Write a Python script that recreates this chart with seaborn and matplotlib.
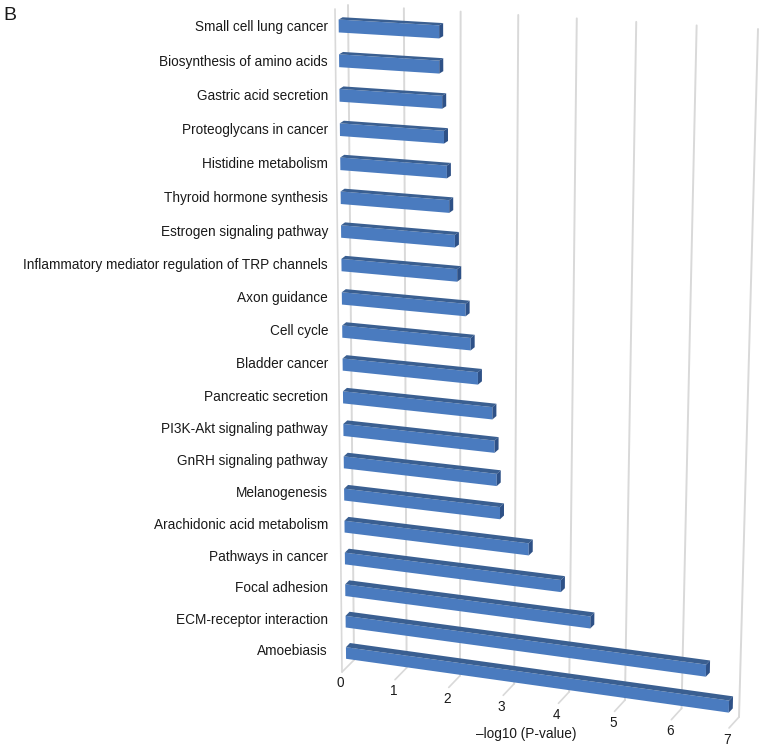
import numpy as np
import pandas as pd
import seaborn as sns
import matplotlib
matplotlib.use('Agg')
import matplotlib.pyplot as plt
from matplotlib.patches import Polygon
from matplotlib.transforms import Affine2D, Transform

pathways = [
    'Small cell lung cancer', 'Biosynthesis of amino acids', 'Gastric acid secretion',
    'Proteoglycans in cancer', 'Histidine metabolism', 'Thyroid hormone synthesis',
    'Estrogen signaling pathway', 'Inflammatory mediator regulation of TRP channels',
    'Axon guidance', 'Cell cycle', 'Bladder cancer', 'Pancreatic secretion',
    'PI3K-Akt signaling pathway', 'GnRH signaling pathway', 'Melanogenesis',
    'Arachidonic acid metabolism', 'Pathways in cancer', 'Focal adhesion',
    'ECM-receptor interaction', 'Amoebiasis',
]
log_p = [1.79, 1.79, 1.84, 1.87, 1.92, 1.96, 2.06, 2.10, 2.25, 2.34,
         2.47, 2.73, 2.77, 2.81, 2.87, 3.39, 3.97, 4.50, 6.54, 6.95]
x_ticks = [0, 1, 2, 3, 4, 5, 6, 7]

FRONT_COLOR = '#4A7BBF'
TOP_COLOR = '#3A5F91'
CAP_COLOR = '#2E5187'
GRID_COLOR = '#D9D9D9'
TEXT_COLOR = '#1A1A1A'
BAR_WIDTH = 0.37
TOP_ROW, BOTTOM_ROW = -0.5, 19.5


# maps (value, row) to picture pixels, straight lines stay straight
class Perspective(Transform):
    input_dims = 2
    output_dims = 2

    def __init__(self, src, dst):
        super().__init__()
        A, b = [], []
        for (x, y), (u, v) in zip(src, dst):
            A.append([x, y, 1, 0, 0, 0, -u * x, -u * y])
            A.append([0, 0, 0, x, y, 1, -v * x, -v * y])
            b += [u, v]
        self.h = np.append(np.linalg.solve(np.array(A), np.array(b)), 1).reshape(3, 3)

    def transform_non_affine(self, values):
        xy = np.column_stack([values, np.ones(len(values))]) @ self.h.T
        return xy[:, :2] / xy[:, 2:]


corners_src = [(0, 0), (0, 19), (7, 19), (7, 0)]
bar_plane = Perspective(corners_src, [(338.7, 26), (346, 653), (731.8, 707), (747, 50)])
wall_src = [(0, TOP_ROW), (0, BOTTOM_ROW), (7, BOTTOM_ROW), (7, TOP_ROW)]
back_wall = Perspective(wall_src, [(348, 5), (354, 660), (739, 717), (758, 29)])
front_edge = Perspective(wall_src, [(335, 9), (342, 672), (729, 728), (745, 33)])

sns.set_theme(style='white')
plt.rcParams['font.family'] = ['Liberation Sans', 'DejaVu Sans']

fig = plt.figure(figsize=(7.65, 7.49), dpi=100)
ax = fig.add_axes([0, 0, 1, 1])
df = pd.DataFrame({'pathway': pathways, 'value': log_p})
sns.barplot(data=df, x='value', y='pathway', orient='h', color=FRONT_COLOR,
            saturation=1, width=BAR_WIDTH, ax=ax)
ax.axis('off')

pixels = Affine2D().scale(1, -1).translate(0, 749)
for bar in ax.patches:
    bar.set_transform(bar_plane + pixels)
    bar.set_linewidth(0)
    bar.set_zorder(2)

# depth of the bars, the lower rows are seen more from above
for row, value in enumerate(log_p):
    depth = np.array([4.0, -(2.3 + 1.9 * row / 19)])
    top = row - BAR_WIDTH / 2
    low = row + BAR_WIDTH / 2
    a, b, c = bar_plane.transform(np.array([(0, top), (value, top), (value, low)]))
    ax.add_patch(Polygon([a, b, b + depth, a + depth], closed=True, fc=TOP_COLOR, lw=0,
                         transform=pixels, zorder=2))
    ax.add_patch(Polygon([b, b + depth, c + depth, c], closed=True, fc=CAP_COLOR, lw=0,
                         transform=pixels, zorder=2))

# walls and floor
for tick in x_ticks:
    ax.plot([tick, tick], [TOP_ROW, BOTTOM_ROW], color=GRID_COLOR, lw=1.4,
            transform=back_wall + pixels, zorder=1)
    back = back_wall.transform(np.array([(tick, BOTTOM_ROW)]))[0]
    front = front_edge.transform(np.array([(tick, BOTTOM_ROW)]))[0]
    ax.plot([back[0], front[0]], [back[1], front[1]], color=GRID_COLOR, lw=1.2,
            transform=pixels, zorder=1)
    ax.text(front[0] - 1.5, front[1] + 15.5, str(tick), transform=pixels, ha='center', va='baseline',
            fontsize=9.85, color=TEXT_COLOR)
ax.plot([0, 0], [TOP_ROW, BOTTOM_ROW], color=GRID_COLOR, lw=1.2,
        transform=front_edge + pixels, zorder=1)

for row, name in enumerate(pathways):
    y = bar_plane.transform(np.array([(0, row)]))[0][1]
    ax.text(328, y + 5 - 3 * row / 19, name, transform=pixels, ha='right', va='baseline',
            fontsize=9.85, color=TEXT_COLOR)

ax.text(526, 738, '\u2013log10 (P-value)', transform=pixels, ha='center', va='baseline',
        fontsize=9.85, color=TEXT_COLOR)
ax.text(3.5, 20, 'B', transform=pixels, ha='left', va='baseline', fontsize=14, color=TEXT_COLOR)

fig.savefig('out.png', dpi=100)
